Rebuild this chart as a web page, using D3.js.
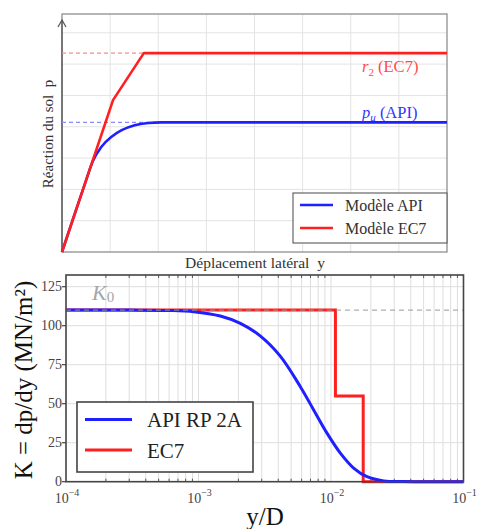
<!DOCTYPE html>
<html>
<head>
<meta charset="utf-8">
<script src="https://cdn.jsdelivr.net/npm/d3@7"></script>
<style>
    body { margin: 0; background: #fff; }
    svg { display: block; }
    text { font-family: "Liberation Serif", "Times New Roman", serif; }
</style>
</head>
<body>
<div id="chart"></div>
<script>
// ---- Top panel : p-y curves (arbitrary units, grid unit = 1) ----
const pyApiY = [0, 0.26, 0.47, 0.64, 0.82, 1.03, 1.24, 1.51, 1.79, 2.07, 8];
const pyApiP = [0, 1.2, 2.15, 2.9, 3.36, 3.68, 3.89, 4.05, 4.12, 4.14, 4.14];
const pyEc7Y = [0, 1.06, 1.70, 8];
const pyEc7P = [0, 4.85, 6.35, 6.35];
const puApi = 4.14;
const r2Ec7 = 6.35;
const topLegend = ['Modèle API', 'Modèle EC7'];

// ---- Bottom panel : secant stiffness K vs y/D ----
const apiYD = [1e-4, 3e-4, 6e-4, 9.2e-4, 1.46e-3, 2.07e-3, 2.92e-3, 4.14e-3, 5.87e-3,
    7.4e-3, 9.35e-3, 1.18e-2, 1.49e-2, 1.87e-2, 2.5e-2, 3.5e-2, 5e-2, 1e-1];
const apiK = [110, 110, 109.8, 109.0, 106.2, 101.5, 93.5, 80.5, 60.9,
    46.0, 31.0, 18.2, 8.6, 3.2, 0.5, 0.05, 0, 0];
const ec7YD = [1e-4, 0.0108, 0.0175, 0.1];
const ec7K = [110, 55, 0, 0];
const K0 = 110;
const kTicks = [0, 25, 50, 75, 100, 125];
const xTickExponents = [-4, -3, -2, -1];
const bottomLegend = ['API RP 2A', 'EC7'];

const BLUE = '#1f1fff';
const RED = '#ff1f1f';

let svg = d3.select('#chart').append('svg')
    .attr('width', 477)
    .attr('height', 529);

drawTopPanel();
drawBottomPanel();

function drawTopPanel() {
    let g = svg.append('g').attr('id', 'top-panel');
    let x = d3.scaleLinear().domain([0, 8]).range([62, 447]);
    let y = d3.scaleLinear().domain([0, 7.6]).range([252, 14]);

    // light grid
    for (let i = 1; i < 8; i++) {
        g.append('line')
            .attr('x1', x(i)).attr('x2', x(i))
            .attr('y1', y(0)).attr('y2', y(7.6))
            .attr('stroke', '#e3e3e3').attr('stroke-width', 1);
        g.append('line')
            .attr('x1', x(0)).attr('x2', x(8))
            .attr('y1', y(i)).attr('y2', y(i))
            .attr('stroke', '#e3e3e3').attr('stroke-width', 1);
    }

    // frame
    g.append('rect')
        .attr('x', x(0)).attr('y', y(7.6))
        .attr('width', x(8) - x(0)).attr('height', y(0) - y(7.6))
        .attr('fill', 'none').attr('stroke', '#8f8f8f').attr('stroke-width', 1.3);

    // y axis with arrow
    g.append('line')
        .attr('x1', x(0)).attr('x2', x(0))
        .attr('y1', y(0)).attr('y2', 20)
        .attr('stroke', '#555').attr('stroke-width', 1.3);
    g.append('path')
        .attr('d', `M${x(0) - 4},27L${x(0)},20L${x(0) + 4},27`)
        .attr('fill', 'none').attr('stroke', '#555').attr('stroke-width', 1.2);

    // plateau reference lines (dashed)
    g.append('line')
        .attr('x1', x(0)).attr('x2', x(pyEc7Y[2]))
        .attr('y1', y(r2Ec7)).attr('y2', y(r2Ec7))
        .attr('stroke', '#ff8a8a').attr('stroke-width', 1.2)
        .attr('stroke-dasharray', '4,3');
    g.append('line')
        .attr('x1', x(0)).attr('x2', x(2.07))
        .attr('y1', y(puApi)).attr('y2', y(puApi))
        .attr('stroke', '#8a8aff').attr('stroke-width', 1.2)
        .attr('stroke-dasharray', '4,3');

    let apiLine = d3.line()
        .x((d, i) => x(pyApiY[i]))
        .y(d => y(d))
        .curve(d3.curveMonotoneX);
    g.append('path')
        .attr('d', apiLine(pyApiP))
        .attr('fill', 'none').attr('stroke', BLUE).attr('stroke-width', 2.6);

    let ec7Line = d3.line()
        .x((d, i) => x(pyEc7Y[i]))
        .y(d => y(d));
    g.append('path')
        .attr('d', ec7Line(pyEc7P))
        .attr('fill', 'none').attr('stroke', RED).attr('stroke-width', 2.6)
        .attr('stroke-linejoin', 'round');

    // plateau labels
    let r2 = g.append('text')
        .attr('x', 362).attr('y', y(r2Ec7) + 19)
        .attr('font-size', 16.5).attr('fill', '#ff4a4a');
    r2.append('tspan').attr('font-style', 'italic').text('r');
    r2.append('tspan').attr('font-size', 11).attr('dy', 4).text('2');
    r2.append('tspan').attr('dy', -4).text(' (EC7)');

    let pu = g.append('text')
        .attr('x', 362).attr('y', y(puApi) - 4)
        .attr('font-size', 16.5).attr('fill', '#3434ff');
    pu.append('tspan').attr('font-style', 'italic').text('p');
    pu.append('tspan').attr('font-size', 11).attr('font-style', 'italic').attr('dy', 3).text('u');
    pu.append('tspan').attr('dy', -3).text(' (API)');

    // axis titles
    g.append('text')
        .attr('transform', `translate(52.5,134) rotate(-90)`)
        .attr('text-anchor', 'middle')
        .attr('font-size', 15).attr('fill', '#333')
        .attr('xml:space', 'preserve')
        .text('Réaction du sol  p');
    g.append('text')
        .attr('x', 255).attr('y', 268)
        .attr('text-anchor', 'middle')
        .attr('font-size', 15.5).attr('fill', '#333')
        .attr('xml:space', 'preserve')
        .text('Déplacement latéral  y');

    // legend
    let lg = g.append('g').attr('transform', 'translate(293,193)');
    lg.append('rect')
        .attr('width', 154).attr('height', 50)
        .attr('fill', '#fff').attr('stroke', '#666').attr('stroke-width', 1.2);
    [BLUE, RED].forEach((c, i) => {
        lg.append('line')
            .attr('x1', 7).attr('x2', 40)
            .attr('y1', 12 + i * 23).attr('y2', 12 + i * 23)
            .attr('stroke', c).attr('stroke-width', 2.6);
        lg.append('text')
            .attr('x', 52).attr('y', 17.5 + i * 23)
            .attr('font-size', 16).attr('fill', '#333')
            .text(topLegend[i]);
    });
}

function drawBottomPanel() {
    let g = svg.append('g').attr('id', 'bottom-panel');
    let x = d3.scaleLog().domain([1e-4, 1e-1]).range([66, 463.5]);
    let y = d3.scaleLinear().domain([0, 132.5]).range([481.7, 275]);

    // white background for the plot area
    g.append('rect')
        .attr('x', x(1e-4)).attr('y', y(132.5))
        .attr('width', x(1e-1) - x(1e-4)).attr('height', y(0) - y(132.5))
        .attr('fill', '#fff');

    // grid : minor + major decades
    let minor = [];
    xTickExponents.slice(0, -1).forEach(e => {
        for (let k = 2; k < 10; k++) minor.push(k * Math.pow(10, e));
    });
    let major = xTickExponents.map(e => Math.pow(10, e));
    g.selectAll('line.vgrid')
        .data(minor.concat(major.slice(1, -1)))
        .enter().append('line')
        .attr('class', 'vgrid')
        .attr('x1', d => x(d)).attr('x2', d => x(d))
        .attr('y1', y(0)).attr('y2', y(132.5))
        .attr('stroke', '#dedede').attr('stroke-width', 1);
    g.selectAll('line.hgrid')
        .data(kTicks.slice(1))
        .enter().append('line')
        .attr('class', 'hgrid')
        .attr('x1', x(1e-4)).attr('x2', x(1e-1))
        .attr('y1', d => y(d)).attr('y2', d => y(d))
        .attr('stroke', '#dedede').attr('stroke-width', 1);

    // minor ticks on top and bottom edges
    g.selectAll('line.mtick')
        .data(minor)
        .enter().append('line')
        .attr('x1', d => x(d)).attr('x2', d => x(d))
        .attr('y1', y(0)).attr('y2', y(0) - 3)
        .attr('stroke', '#555').attr('stroke-width', 1);
    g.selectAll('line.mtick-top')
        .data(minor)
        .enter().append('line')
        .attr('x1', d => x(d)).attr('x2', d => x(d))
        .attr('y1', y(132.5)).attr('y2', y(132.5) + 3)
        .attr('stroke', '#555').attr('stroke-width', 1);

    // EC7 step curve
    let stepLine = d3.line()
        .x((d, i) => x(ec7YD[i]))
        .y(d => y(d))
        .curve(d3.curveStepAfter);
    g.append('path')
        .attr('d', stepLine(ec7K))
        .attr('fill', 'none').attr('stroke', RED).attr('stroke-width', 3);

    // API curve
    let apiLine = d3.line()
        .x((d, i) => x(apiYD[i]))
        .y(d => y(d))
        .curve(d3.curveCatmullRom.alpha(0.5));
    g.append('path')
        .attr('d', apiLine(apiK))
        .attr('fill', 'none').attr('stroke', BLUE).attr('stroke-width', 3);

    // K0 reference line
    g.append('line')
        .attr('x1', x(1e-4)).attr('x2', x(1e-1))
        .attr('y1', y(K0)).attr('y2', y(K0))
        .attr('stroke', '#999').attr('stroke-opacity', 0.8)
        .attr('stroke-width', 1.4).attr('stroke-dasharray', '5,4');

    let k0 = g.append('text')
        .attr('x', 92).attr('y', 300)
        .attr('font-size', 22).attr('fill', '#a6a6a6');
    k0.append('tspan').attr('font-style', 'italic').text('K');
    k0.append('tspan').attr('font-size', 15).attr('dy', 2).text('0');

    // frame
    g.append('rect')
        .attr('x', x(1e-4)).attr('y', y(132.5))
        .attr('width', x(1e-1) - x(1e-4)).attr('height', y(0) - y(132.5))
        .attr('fill', 'none').attr('stroke', '#444').attr('stroke-width', 1.6);

    // y ticks + labels
    g.selectAll('line.ytick')
        .data(kTicks)
        .enter().append('line')
        .attr('x1', x(1e-4) - 4).attr('x2', x(1e-4))
        .attr('y1', d => y(d)).attr('y2', d => y(d))
        .attr('stroke', '#444').attr('stroke-width', 1.2);
    g.selectAll('text.ylab')
        .data(kTicks)
        .enter().append('text')
        .attr('x', 62).attr('y', d => y(d) + 4.5)
        .attr('text-anchor', 'end')
        .attr('font-size', 14).attr('fill', '#444')
        .text(d => d);

    // x tick labels 10^e
    xTickExponents.forEach(e => {
        let t = g.append('text')
            .attr('x', x(Math.pow(10, e)) + 1).attr('y', 502.5)
            .attr('text-anchor', 'middle')
            .attr('font-size', 14).attr('fill', '#444');
        t.append('tspan').text('10');
        t.append('tspan').attr('font-size', 10).attr('dy', -7).text('\u2212' + Math.abs(e));
    });

    // axis titles
    g.append('text')
        .attr('transform', 'translate(32,380) rotate(-90)')
        .attr('text-anchor', 'middle')
        .attr('font-size', 25).attr('fill', '#111')
        .text('K = dp/dy (MN/m²)');
    g.append('text')
        .attr('x', 265).attr('y', 525)
        .attr('text-anchor', 'middle')
        .attr('font-size', 25).attr('fill', '#111')
        .text('y/D');

    // legend
    let lg = g.append('g').attr('transform', 'translate(77,402)');
    lg.append('rect')
        .attr('width', 176).attr('height', 70)
        .attr('fill', '#fff').attr('stroke', '#444').attr('stroke-width', 1.6);
    [BLUE, RED].forEach((c, i) => {
        lg.append('line')
            .attr('x1', 8).attr('x2', 55)
            .attr('y1', 17.5 + i * 30.5).attr('y2', 17.5 + i * 30.5)
            .attr('stroke', c).attr('stroke-width', 3);
        lg.append('text')
            .attr('x', 70).attr('y', 25 + i * 30.5)
            .attr('font-size', 21).attr('fill', '#222')
            .text(bottomLegend[i]);
    });
}
</script>
</body>
</html>
